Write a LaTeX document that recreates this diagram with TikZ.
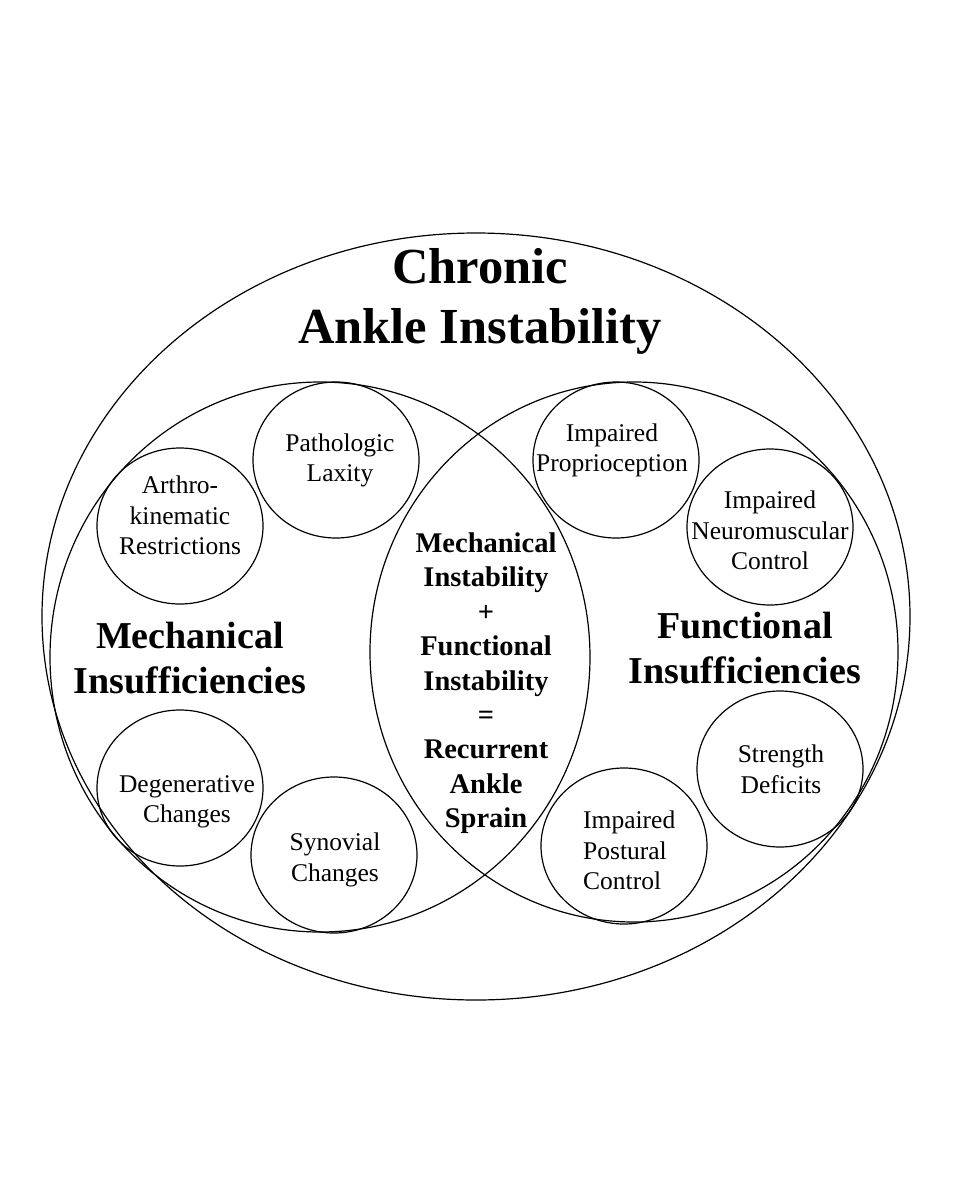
\documentclass[tikz,border=0pt]{standalone}
\usepackage{fontspec}
\setmainfont{Liberation Serif}
\usetikzlibrary{shapes.geometric}
\tikzset{
  ring/.style={ellipse, draw=black, line width=1.2pt, inner sep=0pt},
  smallring/.style={ring, minimum width=166pt, minimum height=156pt},
  smalltext/.style={inner sep=0pt, anchor=north, align=center, font=\fontsize{25.5}{30.5}\selectfont},
  sidetitle/.style={inner sep=0pt, anchor=north, align=center, font=\bfseries\fontsize{38}{45}\selectfont},
  lenstext/.style={inner sep=0pt, anchor=north, align=center, font=\bfseries\fontsize{28.5}{34.4}\selectfont},
  bigtitle/.style={inner sep=0pt, anchor=north, align=center, font=\bfseries\fontsize{50.5}{60}\selectfont}
}
\begin{document}
\begin{tikzpicture}[x=1pt,y=-1pt]
\fill[white] (0,0) rectangle (960,1200);
\useasboundingbox (0,0) rectangle (960,1200);
% big shapes
\node[ring, minimum width=868pt, minimum height=767pt] (outer) at (476,616.5) {};
\node[ring, minimum width=540pt, minimum height=550pt] (mech) at (320,657) {};
\node[ring, minimum width=528pt, minimum height=540pt] (func) at (634,652) {};
% small circles
\node[smallring] (arthro) at (180,526) {};
\node[smallring] (patho) at (336,460) {};
\node[smallring] (proprio) at (616,460) {};
\node[smallring] (neuro) at (770,527) {};
\node[smallring] (degen) at (180,788) {};
\node[smallring] (synov) at (334,855) {};
\node[smallring] (strength) at (780,769) {};
\node[smallring] (postural) at (624,846) {};
% texts
\node[bigtitle] (title) at (480,248.7) {Chronic\\Ankle Instability};
\node[sidetitle] (mechlabel) at (190,622) {Mechanical\\Insufficiencies};
\node[sidetitle] (funclabel) at (745,612) {Functional\\Insufficiencies};
\node[lenstext] (lens) at (486,532.6) {Mechanical\\Instability\\+\\Functional\\Instability\\=\\Recurrent\\Ankle\\Sprain};
\node[smalltext] (arthrot) at (180,475.7) {Arthro-\\kinematic\\Restrictions};
\node[smalltext] (pathot) at (340,433.4) {Pathologic\\Laxity};
\node[smalltext] (propriot) at (612,423.4) {Impaired\\Proprioception};
\node[smalltext] (neurot) at (770,491) {Impaired\\Neuromuscular\\Control};
\node[smalltext] (degent) at (187,775.4) {Degenerative\\Changes};
\node[smalltext] (synovt) at (335,832.7) {Synovial\\Changes};
\node[smalltext] (strengtht) at (781,744.7) {Strength\\Deficits};
\node[smalltext, anchor=north west, align=left] (posturalt) at (583,810.7) {Impaired\\Postural\\Control};
\end{tikzpicture}
\end{document}
